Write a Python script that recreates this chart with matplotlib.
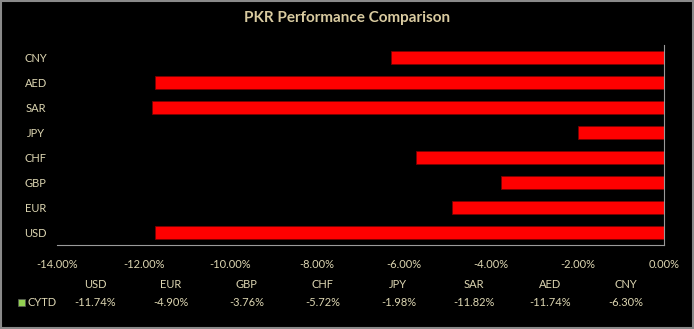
import matplotlib
matplotlib.use('Agg')
import matplotlib.pyplot as plt
from matplotlib.patches import Rectangle
from matplotlib.ticker import FuncFormatter

currencies = ['USD', 'EUR', 'GBP', 'CHF', 'JPY', 'SAR', 'AED', 'CNY']
cytd = [-11.74, -4.90, -3.76, -5.72, -1.98, -11.82, -11.74, -6.30]
x_ticks = [-14, -12, -10, -8, -6, -4, -2, 0]

plt.rcParams['font.family'] = ['Lato', 'DejaVu Sans']
TXT = '#ddd6b2'
FS = 8

fig = plt.figure(figsize=(6.94, 3.29), dpi=100, facecolor='black')
fig.patches.append(Rectangle((0.001, 0.002), 0.997, 0.995, transform=fig.transFigure,
                             fill=False, edgecolor='#8a8a8a', linewidth=1.5))
ax = fig.add_axes([0.0821, 0.2553, 0.8747, 0.6079], facecolor='black')

y = range(len(currencies))
ax.barh(y, cytd, height=0.5, color='#ff0000', edgecolor='#7a0000', linewidth=0.6)
ax.set_yticks(list(y))
ax.set_yticklabels(currencies)
ax.set_ylim(-0.5, len(currencies) - 0.5)
ax.set_xlim(-14, 0)
ax.set_xticks(x_ticks)
ax.xaxis.set_major_formatter(FuncFormatter(lambda v, p: f'{v:.2f}%'))
ax.tick_params(axis='both', colors=TXT, labelsize=FS, length=0)
ax.tick_params(axis='x', pad=10)
ax.yaxis.set_tick_params(pad=0)
for lbl in ax.get_yticklabels():
    lbl.set_horizontalalignment('center')
    lbl.set_x(-0.035)
for s in ['top', 'left']:
    ax.spines[s].set_visible(False)
ax.spines['bottom'].set_color('#9a9a9a')
ax.spines['right'].set_color('#9a9a9a')

fig.text(0.5, 0.945, 'PKR Performance Comparison', ha='center', va='center',
         color='#d9cba0', fontsize=11, fontweight='bold')

# data table below the axis
n = len(currencies)
for i, (c, v) in enumerate(zip(currencies, cytd)):
    xf = 0.0821 + 0.8747 * (i + 0.5) / n
    fig.text(xf, 1 - 285 / 329, c, ha='center', va='center', color=TXT, fontsize=FS)
    fig.text(xf, 1 - 302 / 329, f'{v:.2f}%', ha='center', va='center', color=TXT, fontsize=FS)
fig.patches.append(Rectangle((18 / 694, 1 - 306 / 329), 7 / 694, 7 / 329, transform=fig.transFigure,
                             facecolor='#92d050', edgecolor='#5a5a5a', linewidth=0.5))
fig.text(28 / 694, 1 - 302 / 329, 'CYTD', ha='left', va='center', color=TXT, fontsize=FS)

fig.savefig('out.png', dpi=100, facecolor='black')
